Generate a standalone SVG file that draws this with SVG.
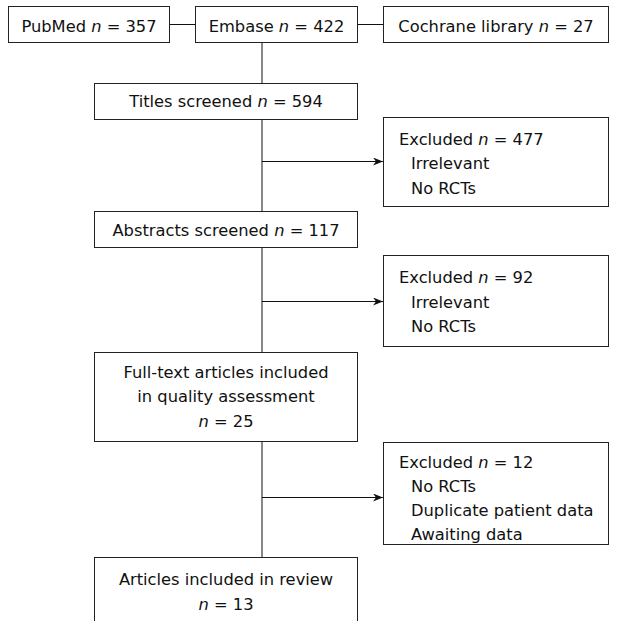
<svg xmlns="http://www.w3.org/2000/svg" width="617" height="621" viewBox="0 0 617 621">
<style>
.box{fill:#fff;stroke:#222;stroke-width:1}
.t{font-family:"DejaVu Sans",Verdana,sans-serif;font-size:16.3px;fill:#111}
.c{text-anchor:middle}
.ln{stroke:#111;stroke-width:1;fill:none}
</style>
<defs>
<marker id="ah" markerWidth="10" markerHeight="8" refX="10" refY="4" orient="auto" markerUnits="userSpaceOnUse">
<path d="M0,0 L10,4 L0,8 L3,4 Z" fill="#111"/>
</marker>
</defs>
<rect width="617" height="621" fill="#fff"/>
<g id="connectors">
<line class="ln" x1="170" y1="24.5" x2="195" y2="24.5"/>
<line class="ln" x1="358" y1="24.5" x2="383" y2="24.5"/>
<line class="ln" x1="262" y1="43" x2="262" y2="83"/>
<line class="ln" x1="262" y1="120" x2="262" y2="211"/>
<line class="ln" x1="262" y1="247" x2="262" y2="352"/>
<line class="ln" x1="262" y1="442" x2="262" y2="557"/>
<line class="ln" x1="262" y1="161.5" x2="383" y2="161.5" marker-end="url(#ah)"/>
<line class="ln" x1="262" y1="301.5" x2="383" y2="301.5" marker-end="url(#ah)"/>
<line class="ln" x1="262" y1="497.5" x2="383" y2="497.5" marker-end="url(#ah)"/>
</g>
<g id="pubmed">
<rect class="box" x="8.5" y="6.5" width="161" height="36"/>
<text class="t c" x="89" y="32">PubMed <tspan font-style="italic">n</tspan> = 357</text>
</g>
<g id="embase">
<rect class="box" x="195.5" y="6.5" width="162" height="36"/>
<text class="t c" x="276.5" y="32">Embase <tspan font-style="italic">n</tspan> = 422</text>
</g>
<g id="cochrane">
<rect class="box" x="383.5" y="6.5" width="225" height="36"/>
<text class="t c" x="496" y="32">Cochrane library <tspan font-style="italic">n</tspan> = 27</text>
</g>
<g id="titles">
<rect class="box" x="94.5" y="83.5" width="263" height="36"/>
<text class="t c" x="226" y="107">Titles screened <tspan font-style="italic">n</tspan> = 594</text>
</g>
<g id="excluded1">
<rect class="box" x="383.5" y="117.5" width="225" height="89"/>
<text class="t" x="399" y="145">Excluded <tspan font-style="italic">n</tspan> = 477</text>
<text class="t" x="411" y="169">Irrelevant</text>
<text class="t" x="411" y="194">No RCTs</text>
</g>
<g id="abstracts">
<rect class="box" x="94.5" y="211.5" width="263" height="36"/>
<text class="t c" x="226" y="236">Abstracts screened <tspan font-style="italic">n</tspan> = 117</text>
</g>
<g id="excluded2">
<rect class="box" x="383.5" y="255.5" width="225" height="91"/>
<text class="t" x="399" y="283">Excluded <tspan font-style="italic">n</tspan> = 92</text>
<text class="t" x="411" y="308">Irrelevant</text>
<text class="t" x="411" y="332">No RCTs</text>
</g>
<g id="fulltext">
<rect class="box" x="94.5" y="352.5" width="263" height="89"/>
<text class="t c" x="226" y="378">Full-text articles included</text>
<text class="t c" x="226" y="402">in quality assessment</text>
<text class="t c" x="226" y="427"><tspan font-style="italic">n</tspan> = 25</text>
</g>
<g id="excluded3">
<rect class="box" x="383.5" y="442.5" width="225" height="102"/>
<text class="t" x="399" y="468">Excluded <tspan font-style="italic">n</tspan> = 12</text>
<text class="t" x="411" y="492">No RCTs</text>
<text class="t" x="411" y="516">Duplicate patient data</text>
<text class="t" x="411" y="540">Awaiting data</text>
</g>
<g id="articles">
<rect class="box" x="94.5" y="557.5" width="263" height="70"/>
<text class="t c" x="226" y="585">Articles included in review</text>
<text class="t c" x="226" y="610"><tspan font-style="italic">n</tspan> = 13</text>
</g>
</svg>
